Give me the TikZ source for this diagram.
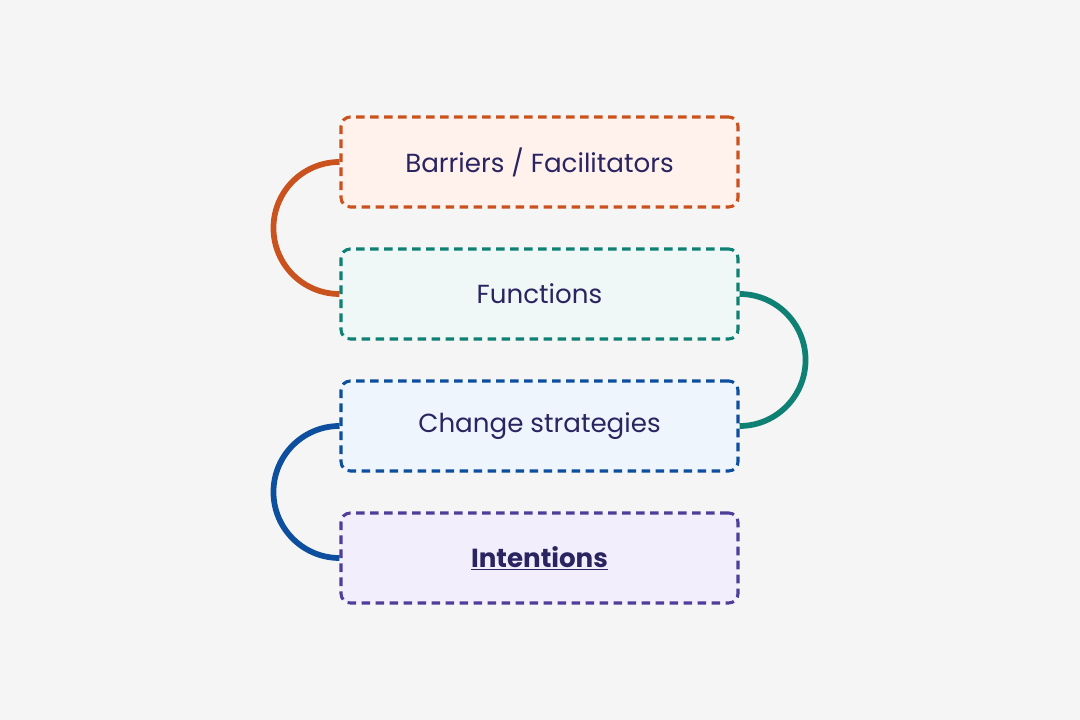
\documentclass[tikz,border=0pt]{standalone}
\usepackage{fontspec}
\setmainfont{Poppins}
\definecolor{bg}{HTML}{F5F5F5}
\definecolor{txt}{HTML}{2A2461}
\definecolor{c1}{HTML}{C9521F}\definecolor{f1}{HTML}{FFF1EC}
\definecolor{c2}{HTML}{0E8074}\definecolor{f2}{HTML}{EFF7F7}
\definecolor{c3}{HTML}{0D4F9E}\definecolor{f3}{HTML}{EEF5FC}
\definecolor{c4}{HTML}{4E3E9A}\definecolor{f4}{HTML}{F3EEFC}
\begin{document}
\begin{tikzpicture}[x=0.75pt,y=0.75pt,
  box/.style={draw, dash pattern=on 6.5pt off 4pt, line width=2.3pt, rounded corners=7pt,
    minimum width=397*0.75pt, minimum height=90*0.75pt, text=txt, font=\fontsize{19.6}{24}\selectfont},
  link/.style={line width=4.3pt}]
\fill[bg] (0,0) rectangle (1080,720);
\useasboundingbox (0,0) rectangle (1080,720);
\node[box, color=c1, fill=f1, text=txt] (b1) at (539.5,558) {Barriers / Facilitators};
\node[box, color=c2, fill=f2, text=txt] (b2) at (539.5,426) {Functions};
\node[box, color=c3, fill=f3, text=txt] (b3) at (539.5,294) {Change strategies};
\node[box, color=c4, fill=f4, text=txt] (b4) at (539.5,162) {\textbf{\underline{Intentions}}};
\draw[link, c1] (b1.west) arc (90:270:66);
\draw[link, c2] (b2.east) arc (90:-90:66);
\draw[link, c3] (b3.west) arc (90:270:66);
\end{tikzpicture}
\end{document}
